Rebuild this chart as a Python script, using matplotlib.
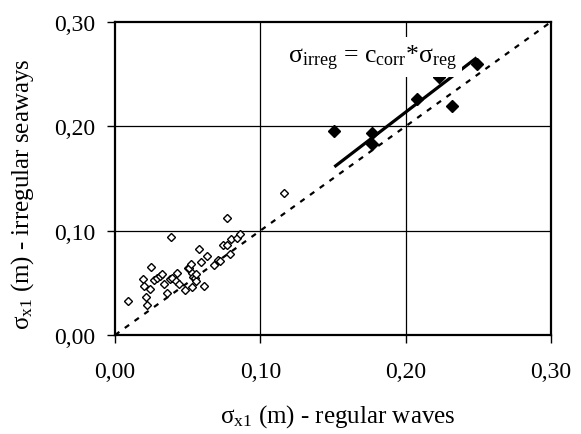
import numpy as np
import matplotlib
matplotlib.use("Agg")
import matplotlib.pyplot as plt

plt.rcParams["font.family"] = ["Liberation Serif", "DejaVu Serif"]
plt.rcParams["mathtext.fontset"] = "custom"
plt.rcParams["mathtext.rm"] = "Liberation Serif"
plt.rcParams["mathtext.it"] = "Liberation Serif:italic"

# regular waves vs irregular seaways (open diamonds)
reg_x = [0.009, 0.019, 0.020, 0.021, 0.022, 0.024, 0.025, 0.027, 0.029, 0.031,
         0.032, 0.034, 0.036, 0.038, 0.039, 0.0383, 0.042, 0.043, 0.044, 0.048,
         0.050, 0.051, 0.052, 0.053, 0.053, 0.054, 0.055, 0.0555, 0.056, 0.058,
         0.059, 0.0612, 0.063, 0.068, 0.071, 0.072, 0.074, 0.077, 0.079, 0.080,
         0.084, 0.086, 0.077, 0.1163]
irr_y = [0.033, 0.054, 0.047, 0.036, 0.029, 0.044, 0.065, 0.053, 0.055, 0.057,
         0.058, 0.049, 0.040, 0.054, 0.055, 0.094, 0.052, 0.059, 0.049, 0.043,
         0.064, 0.064, 0.068, 0.059, 0.046, 0.056, 0.055, 0.052, 0.058, 0.082,
         0.070, 0.0465, 0.076, 0.067, 0.072, 0.071, 0.086, 0.086, 0.078, 0.092,
         0.093, 0.097, 0.112, 0.136]

# larger amplitudes (filled diamonds)
big_x = [0.151, 0.177, 0.177, 0.208, 0.223, 0.232, 0.249]
big_y = [0.196, 0.194, 0.183, 0.226, 0.247, 0.220, 0.260]

ticks = [0.0, 0.1, 0.2, 0.3]
tick_labels = ["0,00", "0,10", "0,20", "0,30"]

bx = np.array(big_x)
by = np.array(big_y)
c_corr = np.sum(bx * by) / np.sum(bx * bx)

fig = plt.figure(figsize=(5.81, 4.35), dpi=100)
ax = fig.add_axes([0.198, 0.2276, 0.75, 0.7194])

ax.plot([0, 0.3], [0, 0.3], color="black", lw=1.6, dashes=(2.4, 3.0), zorder=2)
ax.plot(reg_x, irr_y, "D", ms=4.2, mfc="white", mec="black", mew=1.0,
        ls="none", zorder=3)
ax.plot(big_x, big_y, "D", ms=6.3, color="black", ls="none", zorder=3)
xl = np.array([bx.min(), bx.max()])
ax.plot(xl, c_corr * xl, color="black", lw=2.3, solid_capstyle="butt", zorder=4)

ax.text(0.1775, 0.2617,
        r"$\mathrm{σ_{irreg}}$ = $\mathrm{c_{corr}}$*$\mathrm{σ_{reg}}$",
        fontsize=18.5, ha="center", va="baseline", zorder=5,
        bbox=dict(boxstyle="square,pad=0.2", fc="white", ec="none"))

ax.set_xlim(0, 0.3)
ax.set_ylim(0, 0.3)
ax.set_xticks(ticks)
ax.set_yticks(ticks)
ax.set_xticklabels(tick_labels)
ax.set_yticklabels(tick_labels)
ax.tick_params(direction="out", length=6, width=1.0, labelsize=17)
ax.tick_params(axis="x", pad=13)
ax.tick_params(axis="y", pad=8)

for v in [0.1, 0.2]:
    ax.axhline(v, color="black", lw=0.9, zorder=1)
    ax.axvline(v, color="black", lw=0.9, zorder=1)

for s in ax.spines.values():
    s.set_linewidth(1.6)
    s.set_zorder(6)

ax.set_xlabel(r"$\mathrm{σ_{x1}}$ (m) - regular waves", fontsize=18)
ax.set_ylabel(r"$\mathrm{σ_{x1}}$ (m) - irregular seaways", fontsize=18, labelpad=13)
ax.xaxis.set_label_coords(0.51, -0.215)
ax.yaxis.label.set_y(0.452)

plt.savefig("out.png", dpi=100)
